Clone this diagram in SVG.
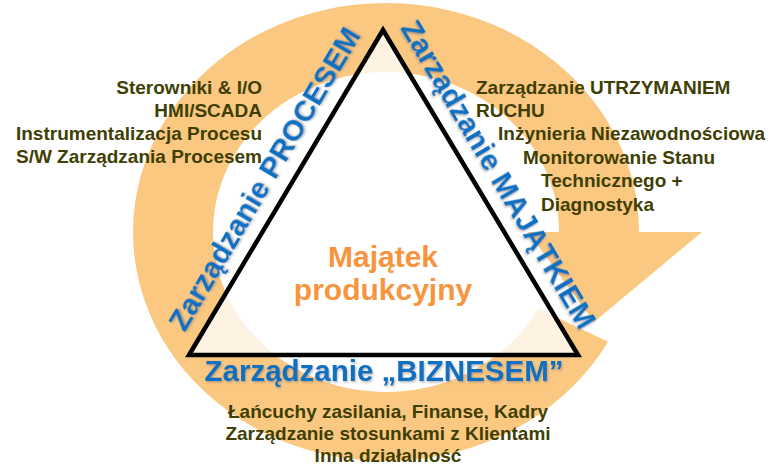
<svg xmlns="http://www.w3.org/2000/svg" width="772" height="468" viewBox="0 0 772 468">
  <defs>
    <filter id="sh" x="-10%" y="-10%" width="120%" height="120%">
      <feDropShadow dx="1" dy="1.5" stdDeviation="0.8" flood-color="#7a7a7a" flood-opacity="0.55"/>
    </filter>
  </defs>
  <style>
    text { font-family: "Liberation Sans", Arial, sans-serif; font-weight: bold; }
    .dark { fill: #3f3f05; font-size: 19px; }
    .blue { fill: #0e6fc1; font-size: 29.5px; filter: url(#sh); }
    .core { fill: #f7953f; font-size: 30px; text-anchor: middle; }
  </style>
  <rect width="772" height="468" fill="#ffffff"/>

  <g id="cycle-arrow">
    <path d="M 608.1,341.7 A 253 229 0 1 1 639,232 L 702,232 L 594,322 L 528,232 L 559,232 A 173 160 0 1 0 537.9,308.6 Z" fill="#fbc882"/>
  </g>

  <g id="triangle">
    <polygon points="383,30 189,355 578,355" fill="#ffffff" fill-opacity="0.78" stroke="#000000" stroke-width="4.5" stroke-linejoin="miter"/>
  </g>

  <g id="connectors"></g>

  <g id="center-node">
    <text class="core" x="383" y="267">Majątek</text>
    <text class="core" x="383" y="300">produkcyjny</text>
  </g>

  <g id="process-node">
    <text class="blue" text-anchor="middle" transform="translate(273,184) rotate(-59.3)">Zarządzanie PROCESEM</text>
    <g class="dark" text-anchor="end">
      <text class="dark" x="262" y="94">Sterowniki &amp; I/O</text>
      <text class="dark" x="262" y="117">HMI/SCADA</text>
      <text class="dark" x="262" y="140">Instrumentalizacja Procesu</text>
      <text class="dark" x="262" y="163">S/W Zarządzania Procesem</text>
    </g>
  </g>

  <g id="asset-node">
    <text class="blue" text-anchor="middle" transform="translate(490,179.5) rotate(59.3)">Zarządzanie MAJĄTKIEM</text>
    <text class="dark" x="476" y="94">Zarządzanie UTRZYMANIEM</text>
    <text class="dark" x="476" y="117">RUCHU</text>
    <text class="dark" x="498" y="140">Inżynieria Niezawodnościowa</text>
    <text class="dark" x="523" y="164">Monitorowanie Stanu</text>
    <text class="dark" x="541" y="187">Technicznego +</text>
    <text class="dark" x="541" y="211">Diagnostyka</text>
  </g>

  <g id="business-node">
    <text class="blue" text-anchor="middle" x="384" y="381">Zarządzanie „BIZNESEM”</text>
    <g text-anchor="middle">
      <text class="dark" x="388" y="418">Łańcuchy zasilania, Finanse, Kadry</text>
      <text class="dark" x="388" y="440">Zarządzanie stosunkami z Klientami</text>
      <text class="dark" x="388" y="462">Inna działalność</text>
    </g>
  </g>
</svg>
